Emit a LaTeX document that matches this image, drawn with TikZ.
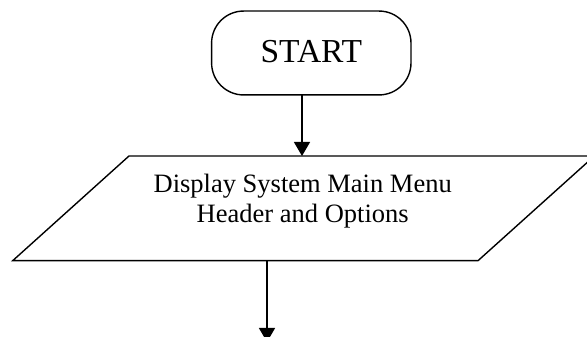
\documentclass[tikz,border=0pt]{standalone}
\usepackage{fontspec}
\setmainfont{Liberation Serif}
\usetikzlibrary{arrows.meta}
\begin{document}
\begin{tikzpicture}[x=1pt,y=1pt,
  line width=1.4pt,
  flowline/.style={-{Triangle[length=14pt,width=16pt]}, line width=1.4pt},
  terminal/.style={minimum width=198pt, minimum height=82.5pt,
    inner sep=0pt, font=\fontsize{33.5}{38}\selectfont, text height=22pt, text depth=2.8pt},
  iotext/.style={align=center, inner sep=0pt, font=\fontsize{26.5}{30}\selectfont}]
  \useasboundingbox (0,0) rectangle (587,337);
  \clip (0,0) rectangle (587,337);

  % terminal: start of the flow, outline with large corner arcs
  \node[terminal] (start) at (311.3,284) {START};
  \def\rr{32}
  \draw ([xshift=\rr pt]start.south west) -- ([xshift=-\rr pt]start.south east)
        arc[start angle=-90, end angle=0, radius=\rr]
        -- ([yshift=-\rr pt]start.north east)
        arc[start angle=0, end angle=90, radius=\rr]
        -- ([xshift=\rr pt]start.north west)
        arc[start angle=90, end angle=180, radius=\rr]
        -- ([yshift=\rr pt]start.south west)
        arc[start angle=180, end angle=270, radius=\rr] -- cycle;

  % input/output parallelogram
  \coordinate (pBL) at (12.7,76.3);
  \coordinate (pBR) at (478,76.3);
  \coordinate (pTR) at (594.4,181);
  \coordinate (pTL) at (129,181);
  \draw (pBL) -- (pBR) -- (pTR) -- (pTL) -- cycle;
  \node[iotext] (menu) at (302.7,135.5) {Display System Main Menu\\Header and Options};

  % connectors
  \coordinate (menuIn) at (302,181);
  \coordinate (menuOut) at (267,76.3);
  \coordinate (next) at (267,-5);
  \draw[flowline] (start.south -| menuIn) -- (menuIn);
  \draw[flowline] (menuOut) -- (next);
\end{tikzpicture}
\end{document}
